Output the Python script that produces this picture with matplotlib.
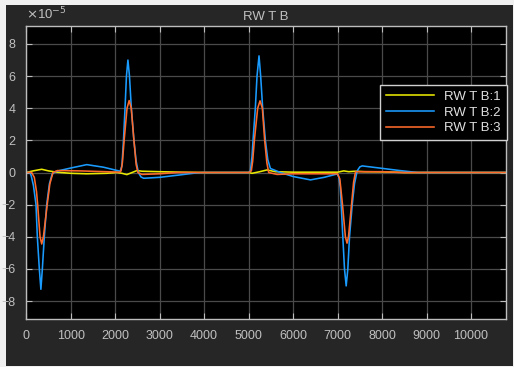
import matplotlib
matplotlib.use("Agg")
import matplotlib.pyplot as plt
from matplotlib.patches import Rectangle

# values, y in units of 1e-5
x1 = [0, 150, 347, 500, 685, 1000, 1360, 1800, 2036, 2150, 2261, 2380, 2486, 2600,
      3000, 3500, 4000, 5000, 5076, 5250, 5414, 5600, 6000, 7000, 7140, 7250, 7400,
      7600, 8000, 8500, 10780]
y1 = [0, 0.1, 0.2, 0.1, 0.02, -0.05, -0.08, -0.05, 0, -0.05, -0.13, 0, 0.12, 0.08,
      0.05, 0.02, 0, 0, -0.05, 0.05, 0.16, 0.05, 0.02, 0.02, 0.1, 0.05, 0.08,
      0.05, 0.04, 0, 0]

x2 = [0, 80, 110, 160, 218, 248, 293, 328, 361, 405, 459, 520, 580, 650, 714, 985,
      1360, 1734, 2110, 2150, 2185, 2220, 2252, 2285, 2320, 2362, 2420, 2470, 2520,
      2580, 2640, 3000, 3460, 3800, 3950, 5000, 5040, 5075, 5098, 5150, 5188, 5233,
      5270, 5315, 5376, 5430, 5489, 5714, 6000, 6390, 6700, 6990, 7030, 7060, 7081,
      7117, 7155, 7193, 7230, 7268, 7329, 7380, 7440, 7500, 7554, 7966, 8400, 8800,
      10780]
y2 = [0, 0, -0.2, -0.8, -2, -4, -6, -7.27, -6, -4, -2, -0.7, -0.1, 0.05, 0.1, 0.27,
      0.49, 0.33, 0.08, 0.4, 2, 4, 6, 7.0, 6, 4, 2, 0.7, 0.0,
      -0.28, -0.36, -0.3, -0.15, -0.03, 0, 0, 0.1, 1, 2, 4, 6, 7.26,
      6, 4, 2, 0.8, 0.25, 0, -0.25, -0.46, -0.3, -0.09, -0.3, -0.9, -2,
      -4, -6, -7.06, -6, -4, -2, -0.7, 0.1, 0.35, 0.41, 0.27, 0.12, 0,
      0]

x3 = [0, 120, 180, 230, 255, 309, 347, 385, 470, 530, 600, 700, 1200, 1800, 2100,
      2130, 2160, 2200, 2265, 2313, 2360, 2420, 2470, 2510, 2600, 3000, 3400, 5000,
      5060, 5090, 5128, 5203, 5256, 5308, 5360, 5410, 5450, 5640, 6000, 7000, 7050,
      7110, 7175, 7212, 7245, 7313, 7360, 7403, 8000, 8500, 10780]
y3 = [0, 0, -0.3, -1.2, -2, -4, -4.45, -4, -2, -0.7, 0, 0.12, 0.1, 0.05, 0.02,
      0.1, 0.6, 2, 4, 4.48, 4, 2, 0.5, 0, -0.12, -0.08, 0, 0,
      0.1, 0.7, 2, 4, 4.46, 4, 2, 0.6, 0, -0.12, -0.08, -0.08, -0.4,
      -2, -4, -4.4, -4, -2, -0.6, 0.05, 0.05, 0, 0]

labels = ["RW T B:1", "RW T B:2", "RW T B:3"]
colors = ["#e8e800", "#1a9cff", "#ff6a2b"]
xticks = list(range(0, 10001, 1000))
yticks = list(range(-8, 9, 2))

txt = "#c0c0c0"
plt.rcParams["font.family"] = ["Liberation Sans", "DejaVu Sans"]

fig = plt.figure(figsize=(5.14, 3.67), dpi=100, facecolor="#f0f0f0")
fig.patches.append(Rectangle((6 / 514, 1 - 366 / 367), 507 / 514, 361 / 367,
                             transform=fig.transFigure, facecolor="#262626",
                             edgecolor="none", zorder=-10))
ax = fig.add_axes([26.3 / 514, 1 - 319 / 367, 479.4 / 514, 293 / 367])
ax.set_facecolor("black")

for xs, ys, c, lab in zip([x1, x2, x3], [y1, y2, y3], colors, labels):
    ax.plot(xs, ys, color=c, lw=1.15, label=lab)

ax.set_xlim(0, 10780)
ax.set_ylim(-9.12, 9.12)
ax.set_xticks(xticks)
ax.set_yticks(yticks)
ax.grid(True, color="#4a4a4a", lw=0.9)
ax.set_axisbelow(True)
ax.tick_params(colors="#bdbdbd", labelcolor=txt, direction="in", length=4,
               top=True, right=True, labelsize=9, pad=8)
for s in ax.spines.values():
    s.set_color("#bdbdbd")
    s.set_linewidth(1.0)

ax.set_title("RW T B", color=txt, fontsize=9.5, pad=4)
ax.text(0.0, 1.012, r"$\times$10$^{-5}$", transform=ax.transAxes, color=txt,
        fontsize=9.5, ha="left", va="bottom")

leg = ax.legend(loc="upper right", bbox_to_anchor=(1.0027, 0.799), fontsize=9.5,
                facecolor="black", edgecolor="#d0d0d0", framealpha=1,
                fancybox=False, handlelength=3.6, borderpad=0.45,
                labelspacing=0.25, borderaxespad=0)
leg.get_frame().set_linewidth(1.0)
for t in leg.get_texts():
    t.set_color("#e0e0e0")

fig.savefig("out.png", dpi=100, facecolor=fig.get_facecolor())
